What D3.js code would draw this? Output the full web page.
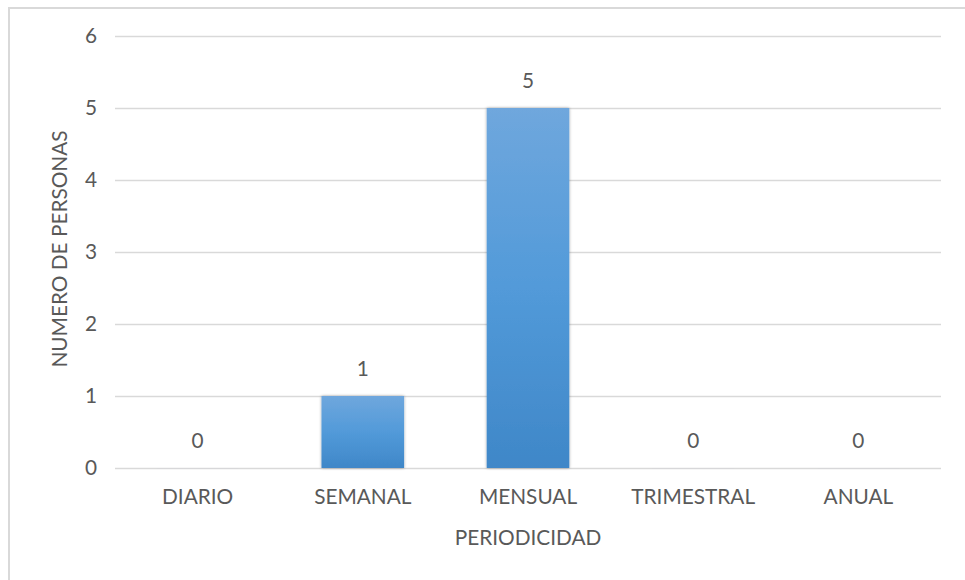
<!DOCTYPE html>
<html>
<head>
<meta charset="utf-8">
<script src="https://cdn.jsdelivr.net/npm/d3@7"></script>
<style>
  html, body { margin: 0; padding: 0; background: #fff; }
  svg { display: block; }
  text { font-family: Lato, "Open Sans", sans-serif; fill: #595959; }
</style>
</head>
<body>
<svg id="chart" width="965" height="580"></svg>
<script>
// Frequency of responses by period
const categories = ["DIARIO", "SEMANAL", "MENSUAL", "TRIMESTRAL", "ANUAL"];
const personas = [0, 1, 5, 0, 0];
const yTicks = [0, 1, 2, 3, 4, 5, 6];
const xTitle = "PERIODICIDAD";
const yTitle = "NUMERO DE PERSONAS";

const svg = d3.select("#chart");
const W = 965, H = 580;
const margin = { left: 115, right: 24, top: 36, bottom: 112 };
const FS = 20.8;

// Outer chart frame
svg.append("rect")
  .attr("x", 9).attr("y", 8)
  .attr("width", W + 20).attr("height", H + 20)
  .attr("fill", "#fff")
  .attr("stroke", "#d9d9d9").attr("stroke-width", 2);

const x = d3.scaleBand()
  .domain(categories)
  .range([margin.left, W - margin.right])
  .paddingInner(0.5).paddingOuter(0.25);

const y = d3.scaleLinear()
  .domain([0, 6])
  .range([H - margin.bottom, margin.top]);

const defs = svg.append("defs");
const grad = defs.append("linearGradient")
  .attr("id", "barFill").attr("x1", 0).attr("y1", 0).attr("x2", 0).attr("y2", 1);
grad.append("stop").attr("offset", "0%").attr("stop-color", "#6fa7dd");
grad.append("stop").attr("offset", "50%").attr("stop-color", "#529ad9");
grad.append("stop").attr("offset", "100%").attr("stop-color", "#3f87c8");

const shadow = defs.append("filter").attr("id", "barShadow")
  .attr("x", "-10%").attr("y", "-10%").attr("width", "120%").attr("height", "120%");
shadow.append("feGaussianBlur").attr("in", "SourceAlpha").attr("stdDeviation", 1.6).attr("result", "b");
shadow.append("feOffset").attr("in", "b").attr("dx", 0).attr("dy", 0).attr("result", "o");
shadow.append("feComponentTransfer").attr("in", "o").attr("result", "s")
  .append("feFuncA").attr("type", "linear").attr("slope", 0.35);
const merge = shadow.append("feMerge");
merge.append("feMergeNode").attr("in", "s");
merge.append("feMergeNode").attr("in", "SourceGraphic");

// Gridlines and y-axis labels
const yAxis = d3.axisLeft(y).tickValues(yTicks)
  .tickSize(-(W - margin.left - margin.right)).tickPadding(18)
  .tickFormat(d3.format("d"));
const gy = svg.append("g")
  .attr("transform", `translate(${margin.left},0)`)
  .call(yAxis);
gy.select(".domain").remove();
gy.selectAll(".tick line").attr("stroke", "#d9d9d9").attr("stroke-width", 1.6);
gy.selectAll(".tick text")
  .attr("font-size", FS).attr("fill", "#595959")
  .style("font-family", "Lato, 'Open Sans', sans-serif");

// Bars
svg.append("g").selectAll("rect")
  .data(categories)
  .join("rect")
  .attr("x", d => x(d))
  .attr("width", x.bandwidth())
  .attr("y", (d, i) => y(personas[i]))
  .attr("height", (d, i) => Math.max(y(0) - y(personas[i]), 0.01))
  .attr("fill", "url(#barFill)")
  .attr("filter", "url(#barShadow)");

// Value labels
svg.append("g").selectAll("text")
  .data(categories)
  .join("text")
  .attr("x", d => x(d) + x.bandwidth() / 2)
  .attr("y", (d, i) => y(personas[i]) - 20)
  .attr("text-anchor", "middle")
  .attr("font-size", FS)
  .text((d, i) => personas[i]);

// Category axis labels
const xAxis = d3.axisBottom(x).tickSize(0).tickPadding(21);
const gx = svg.append("g")
  .attr("transform", `translate(0,${y(0)})`)
  .call(xAxis);
gx.select(".domain").remove();
gx.selectAll(".tick text")
  .attr("font-size", FS).attr("fill", "#595959")
  .style("font-family", "Lato, 'Open Sans', sans-serif");

// Axis titles
svg.append("text")
  .attr("x", (margin.left + W - margin.right) / 2)
  .attr("y", 545)
  .attr("text-anchor", "middle")
  .attr("font-size", FS)
  .text(xTitle);

svg.append("text")
  .attr("transform", `translate(67,${(y(0) + y(6)) / 2 - 3}) rotate(-90)`)
  .attr("text-anchor", "middle")
  .attr("font-size", FS)
  .text(yTitle);
</script>
</body>
</html>
